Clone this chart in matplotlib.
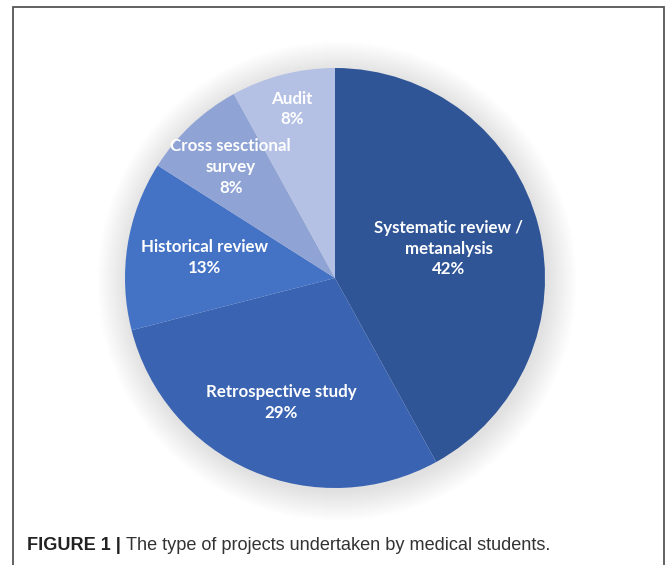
import matplotlib
matplotlib.use("Agg")
import matplotlib.pyplot as plt
from matplotlib.patches import Circle
import numpy as np

categories = ["Systematic review /\nmetanalysis", "Retrospective study", "Historical review",
              "Cross sesctional\nsurvey", "Audit"]
values = [42, 29, 13, 8, 8]
colors = ["#2F5597", "#3A63B2", "#4473C6", "#8FA3D5", "#B4C1E4"]
label_frac = [0.56, 0.645, 0.63, 0.725, 0.83]

W, H = 668, 565
fig = plt.figure(figsize=(W / 100, H / 100), dpi=100)
fig.patch.set_facecolor("white")
ax = fig.add_axes([0, 0, 1, 1])

cx, cy, R = 335, H - 278, 210

# soft shadow
for k in range(1, 31):
    ax.add_patch(Circle((cx + 2, cy - 3), R + k, facecolor="#000000", alpha=0.005,
                        edgecolor="none", zorder=0))

wedges, _ = ax.pie(values, colors=colors, startangle=90, counterclock=False,
                   center=(cx, cy), radius=R, frame=True,
                   wedgeprops=dict(edgecolor="none", linewidth=0))
for w in wedges:
    w.set_zorder(2)

for w, lab, v, f in zip(wedges, categories, values, label_frac):
    ang = np.deg2rad((w.theta1 + w.theta2) / 2)
    x = cx + f * R * np.cos(ang)
    y = cy + f * R * np.sin(ang)
    ax.text(x, y, f"{lab}\n{v}%", ha="center", va="center", color="white",
            fontsize=12.2, fontweight="bold", family="Lato", linespacing=1.35, zorder=3)

ax.set_xlim(0, W)
ax.set_ylim(0, H)
ax.set_aspect("auto")
ax.axis("off")

# frame
ax.plot([12.5, 12.5, 663.5, 663.5], [0, H - 6.5, H - 6.5, 0], color="#555555", lw=1.3,
        solid_joinstyle="miter", zorder=5, clip_on=False)

t1 = fig.text(27 / W, 1 - 545 / H, "FIGURE 1 |", fontsize=13.1, fontweight="bold",
              family="Liberation Sans", color="#222222", va="center", ha="left")
fig.canvas.draw()
bb = t1.get_window_extent()
fig.text((bb.x1 + 5) / W, 1 - 545 / H, "The type of projects undertaken by medical students.",
         fontsize=13.1, family="Liberation Sans", color="#333333", va="center", ha="left")

fig.savefig("out.png", dpi=100, facecolor="white")
